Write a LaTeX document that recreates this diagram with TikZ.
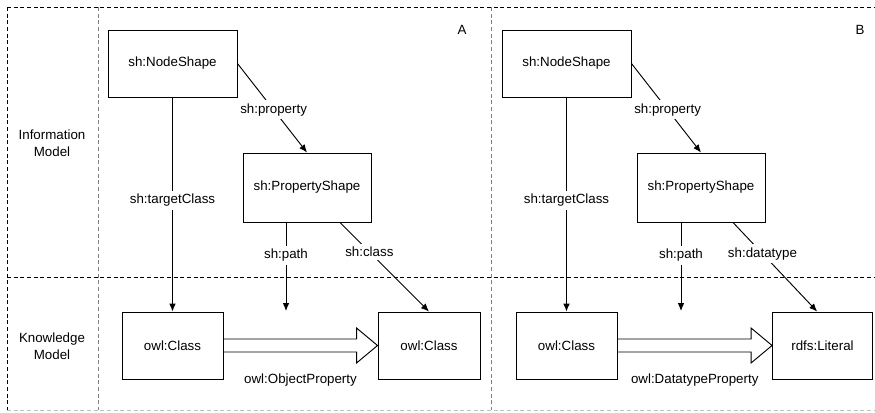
\documentclass[tikz,border=0pt]{standalone}
\usepackage{fontspec}
\setmainfont{Liberation Sans}
\usetikzlibrary{calc, arrows.meta}

\begin{document}
\begin{tikzpicture}[x=0.75pt, y=-0.75pt, font=\fontsize{10}{12.75}\selectfont,
    >={Latex[length=6pt, width=5pt]}, line width=0.7pt,
    box/.style={draw, minimum height=50.25pt},
    lbl/.style={fill=white, inner sep=2.5pt},
    sep/.style={dash pattern=on 3pt off 2pt, line width=0.6pt},
    fat/.style={to path={
        ($(\tikztostart)+(0,-6.5)$) -- ($(\tikztotarget)+(-21,-6.5)$)
        -- ($(\tikztotarget)+(-21,-17.5)$) -- (\tikztotarget)
        -- ($(\tikztotarget)+(-21,17.5)$) -- ($(\tikztotarget)+(-21,6.5)$)
        -- ($(\tikztostart)+(0,6.5)$)}}]
    \useasboundingbox (0,0) rectangle (875,412);

    % frame and lanes
    \draw[sep] (7,7) -- (875,7);
    \draw[sep] (7,7) -- (7,410);
    \draw[sep, gray!50] (7,410) -- (875,410);
    \draw[sep, gray] (98,7) -- (98,410);
    \draw[sep, gray] (491,7) -- (491,410);
    \draw[sep] (7,277) -- (875,277);

    \node[align=center] (info) at (52,143) {Information\\Model};
    \node[align=center] (know) at (52,346) {Knowledge\\Model};
    \node (tagA) at (462,30) {A};
    \node (tagB) at (860,30) {B};

    % left: object property
    \node[box, minimum width=96.75pt] (nsA) at (172.5,63.5) {sh:NodeShape};
    \node[box, minimum width=96pt, minimum height=51.75pt] (psA) at (307,187.5) {sh:PropertyShape};
    \node[box, minimum width=75.75pt] (clsA) at (172.5,345.5) {owl:Class};
    \node[box, minimum width=76.5pt] (objA) at (429,345.5) {owl:Class};
    \coordinate (pathA) at (286,311);

    \draw[->] (nsA.east) -- node[lbl, pos=0.52] {sh:property} (psA.north);
    \draw[->] (nsA) -- node[lbl, pos=0.48] {sh:targetClass} (clsA);
    \draw[->] (psA.south -| pathA) -- node[lbl, pos=0.37] {sh:path} (pathA);
    \draw[->] ([xshift=24.75pt]psA.south) -- node[lbl, pos=0.33] {sh:class} (objA.north);
    \draw (clsA.east) to[fat] (objA.west);
    \node (opA) at ($(clsA.east)!0.5!(objA.west)+(0,34.5)$) {owl:ObjectProperty};

    % right: datatype property
    \node[box, minimum width=96.75pt] (nsB) at (566.5,63.5) {sh:NodeShape};
    \node[box, minimum width=96pt, minimum height=51.75pt] (psB) at (701,187.5) {sh:PropertyShape};
    \node[box, minimum width=75.75pt] (clsB) at (566.5,345.5) {owl:Class};
    \node[box, minimum width=75pt] (litB) at (822.5,345.5) {rdfs:Literal};
    \coordinate (pathB) at (681,311);

    \draw[->] (nsB.east) -- node[lbl, pos=0.52] {sh:property} (psB.north);
    \draw[->] (nsB) -- node[lbl, pos=0.48] {sh:targetClass} (clsB);
    \draw[->] (psB.south -| pathB) -- node[lbl, pos=0.37] {sh:path} (pathB);
    \draw[->] ([xshift=24pt]psB.south) -- node[lbl, pos=0.35] {sh:datatype} ([xshift=-4pt]litB.north);
    \draw (clsB.east) to[fat] (litB.west);
    \node (dpB) at ($(clsB.east)!0.5!(litB.west)+(0,34.5)$) {owl:DatatypeProperty};
\end{tikzpicture}
\end{document}
